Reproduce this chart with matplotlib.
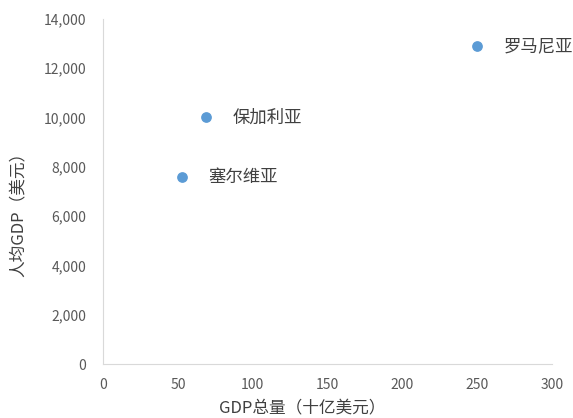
import matplotlib
matplotlib.use("Agg")
import matplotlib.pyplot as plt

plt.rcParams['font.family'] = ['Noto Sans CJK SC', 'DejaVu Sans']

# 数据
countries = ["罗马尼亚", "保加利亚", "塞尔维亚"]
gdp_total = [250, 69, 53]          # 十亿美元
gdp_per_capita = [12900, 10000, 7600]  # 美元

fig = plt.figure(figsize=(5.73, 4.18), dpi=100)
ax = fig.add_axes([0.180, 0.129, 0.783, 0.826])

ax.scatter(gdp_total, gdp_per_capita, s=45, color="#5B9BD5", zorder=3)
for name, x, y in zip(countries, gdp_total, gdp_per_capita):
    ax.annotate(name, (x, y), xytext=(19, 0), textcoords="offset points",
                va="center", ha="left", fontsize=12.5, color="#404040")

ax.set_xlim(0, 300)
ax.set_ylim(0, 14000)
ax.set_xticks(range(0, 301, 50))
ax.set_yticks(range(0, 14001, 2000))
ax.set_yticklabels([f"{v:,}" for v in range(0, 14001, 2000)])
ax.tick_params(axis="y", length=0, labelsize=10, labelcolor="#595959", pad=12)
ax.tick_params(axis="x", length=0, labelsize=10, labelcolor="#595959", pad=10)

for s in ["top", "right"]:
    ax.spines[s].set_visible(False)
ax.spines["left"].set_color("#D9D9D9")
ax.spines["bottom"].set_color("#D9D9D9")

ax.set_xlabel("GDP总量（十亿美元）", fontsize=12, color="#404040")
ax.set_ylabel("人均GDP（美元）", fontsize=12, color="#404040")
ax.xaxis.set_label_coords(0.443, -0.105)
ax.yaxis.set_label_coords(-0.168, 0.446)

plt.savefig("out.png")
